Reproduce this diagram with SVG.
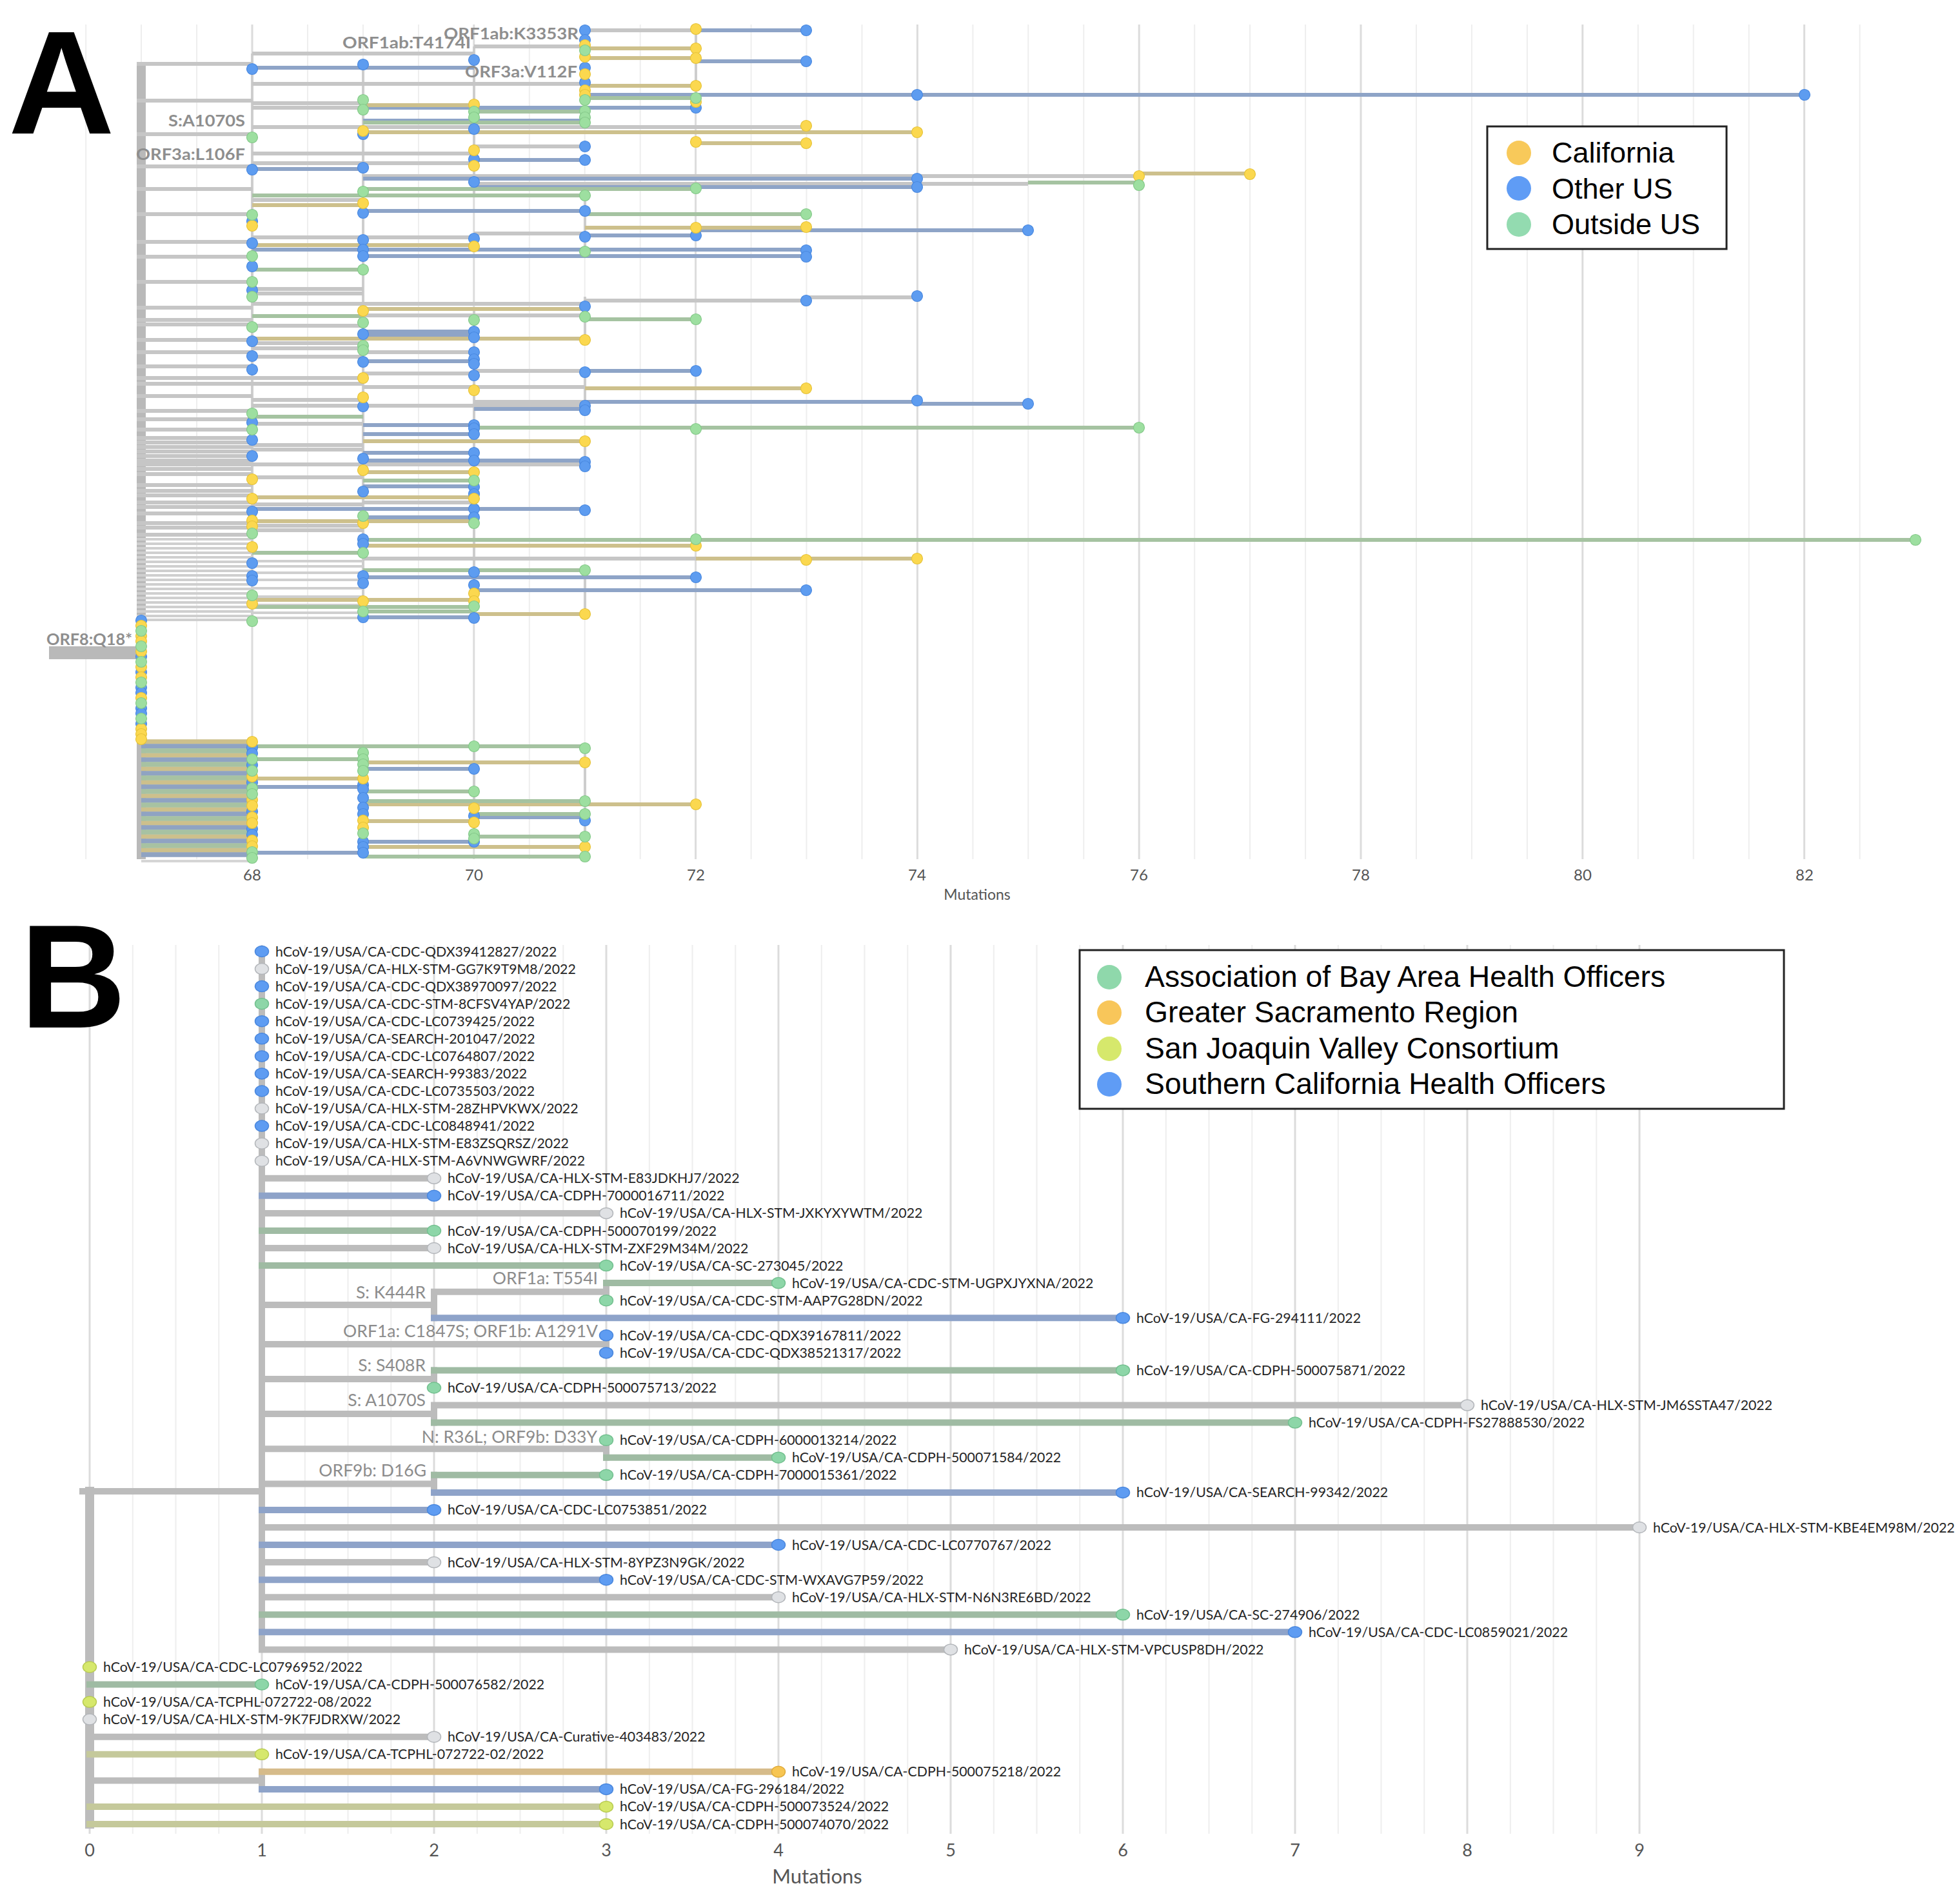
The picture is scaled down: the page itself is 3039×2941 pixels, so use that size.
<svg xmlns="http://www.w3.org/2000/svg" width="3039" height="2941" viewBox="0 0 3039 2941">
<style>
text{font-family:Lato,"Liberation Sans",sans-serif}
.lbl{font-size:21.3px;fill:#262626}
.mut{font-size:26.5px;fill:#8c8c8c;text-anchor:end}
.muta{font-size:25px;font-weight:bold;fill:#8e8e8e}
.ax{fill:#555;text-anchor:middle}
.leg{font-family:"Liberation Sans",Arial,sans-serif;font-size:45px;fill:#000}
.legb{font-family:"Liberation Sans",Arial,sans-serif;font-size:46.3px;fill:#000}
.big{font-family:"Liberation Sans",Arial,sans-serif;font-weight:bold;fill:#000}
.gl{stroke:#eeeeee;stroke-width:2;fill:none}
.gd{stroke:#dcdcdc;stroke-width:3;fill:none}
.ag{stroke:#c6c6c6;stroke-width:6;fill:none}
.agl{stroke:#cfcfcf;stroke-width:4;fill:none}
.ab{stroke:#8ea4c7;stroke-width:6;fill:none}
.ay{stroke:#cdc08c;stroke-width:6;fill:none}
.an{stroke:#a5c3a1;stroke-width:6;fill:none}
.av{stroke:#cdcdcd;stroke-width:4;fill:none}
.pb{fill:#5d9cf0;stroke:#4a89e0;stroke-width:1.2}
.py{fill:#fbd84f;stroke:#e6c33a;stroke-width:1.2}
.pn{fill:#9ddfa0;stroke:#85c98a;stroke-width:1.2}
.br{fill:none;stroke-width:10;stroke-linecap:square}
.bg{stroke:#bcbcbc}
.bb{stroke:#8ea3c9}
.bn{stroke:#9fbba3}
.bo{stroke:#c5c99b}
.bt{stroke:#d6bb8a}
.db{fill:#5e9cf2;stroke:#4a87dd;stroke-width:1.5}
.dg{fill:#dfe1e4;stroke:#b3b6ba;stroke-width:1.5}
.dn{fill:#8dd6a8;stroke:#73c08f;stroke-width:1.5}
.dy{fill:#d6e86c;stroke:#b9cc52;stroke-width:1.5}
.do{fill:#f7c552;stroke:#dfab3a;stroke-width:1.5}
</style>
<rect width="3039" height="2941" fill="#fff"/>

<!-- ================= PANEL A ================= -->
<g id="A-grid">
<path class="gl" d="M133.2 38V1332M219.1 38V1332M305.1 38V1332M477 38V1332M562.9 38V1332M648.9 38V1332M820.8 38V1332M906.7 38V1332M992.7 38V1332M1164.6 38V1332M1250.5 38V1332M1336.5 38V1332M1508.4 38V1332M1594.3 38V1332M1680.3 38V1332M1852.2 38V1332M1938.1 38V1332M2024.1 38V1332M2196 38V1332M2281.9 38V1332M2367.9 38V1332M2539.8 38V1332M2625.7 38V1332M2711.7 38V1332M2883.6 38V1332"/>
<path class="gd" d="M391 38V1332M734.8 38V1332M1078.6 38V1332M1422.4 38V1332M1766.2 38V1332M2110 38V1332M2453.8 38V1332M2797.6 38V1332"/>
</g>
<g id="A-axis">
<text class="ax" font-size="24" x="391" y="1365">68</text>
<text class="ax" font-size="24" x="735" y="1365">70</text>
<text class="ax" font-size="24" x="1079" y="1365">72</text>
<text class="ax" font-size="24" x="1422" y="1365">74</text>
<text class="ax" font-size="24" x="1766" y="1365">76</text>
<text class="ax" font-size="24" x="2110" y="1365">78</text>
<text class="ax" font-size="24" x="2454" y="1365">80</text>
<text class="ax" font-size="24" x="2798" y="1365">82</text>
<text class="ax" font-size="23" x="1515" y="1395">Mutations</text>
</g>
<g id="A-connectors">
<rect x="76" y="1002" width="143" height="20" fill="#b9b9b9"/>
<path d="M219 97V1332" stroke="#b9b9b9" stroke-width="14" fill="none"/>
<path class="av" d="M391 83V963M563 98V963M735 72V300M735 480V960M907 47V160M907 300V392M907 460V530M907 575V640M907 680V725M907 880V955M1079 45V170M391 1148V1330M563 1170V1325M735 1155V1305M907 1157V1328"/>
<path class="ag" d="M212 99H391M212 156H391M212 208H391M212 258H391M212 293H391M212 332H391M212 375H391M212 398H391M212 437H391M212 477H391M212 496H391M212 503H391M212 527H391M212 546H391M212 568H391M212 586H391M212 595H391M212 614H391M212 637H391M212 650H391M212 666H391M212 679H391M212 686H391M212 693H391M212 700H391M212 707H391M212 714H391M212 720H391M212 727H391M212 735H391M212 752H391M212 761H391M212 768H391M212 779H391M212 786H391M212 796H391M212 811H391M212 818H391M212 829H391"/>
<path class="agl" d="M212 836H391M212 843H391M212 850H391M212 857H391M212 864H391M212 871H391M212 878H391M212 885H391M212 892H391M212 899H391M212 906H391M212 913H391M212 920H391M212 927H391M212 934H391M212 941H391M212 948H391M212 955H391M212 961H391"/>
<path class="ag" d="M735 72H907M391 83H735M907 47H1079M391 130H907M391 160H563M391 167H563M391 197H1250M735 227H907M391 238H735M391 253H735M563 273H1766M735 285H1594M391 310H563M735 362H907M391 368H735M907 466H1250M1250 461H1422M391 471H907M563 489H907M391 540H563M563 546H735M735 575H907M563 579H735M391 586H563M391 595H563M563 600H907M735 623H907M391 629H907M563 779H735M391 720H907M563 866H1079M391 448H563M391 455H563M391 505H563M391 532H563M391 553H563M391 620H563M391 657H563M391 690H563M391 697H563M391 740H563M391 782H563M391 815H563M391 822H563"/>
<path class="agl" d="M391 870H563M391 878H563M391 888H563M391 899H563M391 912H563M391 925H563M391 938H563M391 950H563M391 958H563"/>
<path class="ab" d="M1079 47H1250M1079 95H1250M391 105H735M563 167H1079M907 147H2798M563 187H907M735 248H907M391 262H563M563 277H1422M735 290H1422M563 327H907M1079 357H1594M907 365H1079M391 387H1250M563 397H1250M563 514H735M563 520H735M563 560H735M907 575H1079M1422 626H1594M735 634H907M563 659H735M563 673H735M563 702H735M563 714H907M563 754H735M563 802H735M563 895H1079M735 915H1250M563 957H735M563 1192H735M391 1220H563M735 1267H907M391 1322H563M563 1305H735"/>
<path class="ab" stroke-width="10" d="M907 623H1422M391 789H907M907 147H1079"/>
<path class="ay" d="M907 75H1079M907 133H1079M563 163H735M563 205H1422M1079 222H1250M1766 269H1938M391 318H563M907 353H1250M391 380H735M563 479H907M391 525H907M907 602H1250M563 684H907M563 732H735M391 771H735M391 808H735M563 846H1079M1079 866H1422M391 930H735M735 952H907M563 1182H907M391 1207H563M563 1247H1079M563 1273H735M563 1313H907"/>
<path class="ay" stroke-width="10" d="M907 90H1079"/>
<path class="an" d="M907 152H1079M735 173H907M563 190H907M1594 283H1766M563 293H1079M391 303H907M907 332H1250M391 418H563M907 495H1079M391 646H563M735 663H1766M563 745H735M563 837H2970M391 857H563M563 884H907M391 941H735M563 948H735M391 1157H907M391 1177H563M563 1227H735M563 1242H907M735 1262H907M735 1297H907M563 1328H907"/>
<path class="an" stroke-width="12" d="M391 490H563"/>
<path stroke="#cdc08c" stroke-width="7.5" fill="none" d="M219 1150H391M219 1171H391M219 1192H391M219 1213H391M219 1234H391M219 1255H391M219 1276H391M219 1297H391M219 1318H391"/>
<path stroke="#8fa3c2" stroke-width="7.5" fill="none" d="M219 1157H391M219 1178H391M219 1199H391M219 1220H391M219 1241H391M219 1262H391M219 1283H391M219 1304H391M219 1325H391"/>
<path stroke="#a7c2a2" stroke-width="7.5" fill="none" d="M219 1164H391M219 1185H391M219 1206H391M219 1227H391M219 1248H391M219 1269H391M219 1290H391M219 1311H391"/>
<path stroke="#d5d5d5" stroke-width="4" fill="none" d="M219 1335H391"/>
</g>
<g id="A-tips-blue" class="pb">
<circle cx="907" cy="47" r="8.5"/><circle cx="1250" cy="47" r="8.5"/><circle cx="907" cy="62" r="8.5"/><circle cx="1250" cy="95" r="8.5"/><circle cx="735" cy="93" r="8.5"/><circle cx="391" cy="107" r="8.5"/><circle cx="563" cy="100" r="8.5"/><circle cx="907" cy="105" r="8.5"/><circle cx="907" cy="128" r="8.5"/><circle cx="1422" cy="147" r="8.5"/><circle cx="2798" cy="147" r="8.5"/><circle cx="1079" cy="167" r="8.5"/><circle cx="735" cy="200" r="8.5"/><circle cx="563" cy="208" r="8.5"/><circle cx="907" cy="227" r="8.5"/><circle cx="907" cy="248" r="8.5"/><circle cx="735" cy="247" r="8.5"/><circle cx="563" cy="260" r="8.5"/><circle cx="391" cy="263" r="8.5"/><circle cx="1422" cy="277" r="8.5"/><circle cx="735" cy="282" r="8.5"/><circle cx="1422" cy="290" r="8.5"/><circle cx="907" cy="327" r="8.5"/><circle cx="563" cy="330" r="8.5"/><circle cx="391" cy="343" r="8.5"/><circle cx="1594" cy="357" r="8.5"/><circle cx="907" cy="367" r="8.5"/><circle cx="1079" cy="365" r="8.5"/><circle cx="735" cy="370" r="8.5"/><circle cx="391" cy="377" r="8.5"/><circle cx="563" cy="372" r="8.5"/><circle cx="563" cy="387" r="8.5"/><circle cx="1250" cy="388" r="8.5"/><circle cx="563" cy="397" r="8.5"/><circle cx="1250" cy="398" r="8.5"/><circle cx="391" cy="413" r="8.5"/><circle cx="391" cy="450" r="8.5"/><circle cx="1422" cy="459" r="8.5"/><circle cx="1250" cy="466" r="8.5"/><circle cx="907" cy="475" r="8.5"/><circle cx="735" cy="514" r="8.5"/><circle cx="735" cy="523" r="8.5"/><circle cx="563" cy="518" r="8.5"/><circle cx="391" cy="529" r="8.5"/><circle cx="735" cy="546" r="8.5"/><circle cx="391" cy="552" r="8.5"/><circle cx="735" cy="557" r="8.5"/><circle cx="735" cy="564" r="8.5"/><circle cx="563" cy="561" r="8.5"/><circle cx="391" cy="573" r="8.5"/><circle cx="907" cy="577" r="8.5"/><circle cx="1079" cy="575" r="8.5"/><circle cx="735" cy="582" r="8.5"/><circle cx="1422" cy="621" r="8.5"/><circle cx="1594" cy="626" r="8.5"/><circle cx="907" cy="629" r="8.5"/><circle cx="563" cy="630" r="8.5"/><circle cx="907" cy="636" r="8.5"/><circle cx="391" cy="655" r="8.5"/><circle cx="735" cy="659" r="8.5"/><circle cx="735" cy="664" r="8.5"/><circle cx="735" cy="673" r="8.5"/><circle cx="391" cy="682" r="8.5"/><circle cx="735" cy="702" r="8.5"/><circle cx="391" cy="707" r="8.5"/><circle cx="735" cy="714" r="8.5"/><circle cx="907" cy="716" r="8.5"/><circle cx="563" cy="711" r="8.5"/><circle cx="907" cy="723" r="8.5"/><circle cx="735" cy="755" r="8.5"/><circle cx="735" cy="766" r="8.5"/><circle cx="563" cy="762" r="8.5"/><circle cx="907" cy="791" r="8.5"/><circle cx="735" cy="789" r="8.5"/><circle cx="391" cy="793" r="8.5"/><circle cx="735" cy="802" r="8.5"/><circle cx="563" cy="836" r="8.5"/><circle cx="563" cy="843" r="8.5"/><circle cx="391" cy="873" r="8.5"/><circle cx="735" cy="887" r="8.5"/><circle cx="1079" cy="895" r="8.5"/><circle cx="391" cy="893" r="8.5"/><circle cx="563" cy="893" r="8.5"/><circle cx="563" cy="904" r="8.5"/><circle cx="391" cy="900" r="8.5"/><circle cx="735" cy="907" r="8.5"/><circle cx="1250" cy="915" r="8.5"/><circle cx="563" cy="957" r="8.5"/><circle cx="735" cy="958" r="8.5"/>
<circle cx="391" cy="1159" r="8.5"/><circle cx="391" cy="1168" r="8.5"/><circle cx="391" cy="1186" r="8.5"/><circle cx="391" cy="1213" r="8.5"/><circle cx="391" cy="1258" r="8.5"/><circle cx="391" cy="1285" r="8.5"/><circle cx="391" cy="1294" r="8.5"/><circle cx="735" cy="1192" r="8.5"/><circle cx="563" cy="1217" r="8.5"/><circle cx="563" cy="1223" r="8.5"/><circle cx="563" cy="1237" r="8.5"/><circle cx="563" cy="1252" r="8.5"/><circle cx="563" cy="1262" r="8.5"/><circle cx="735" cy="1265" r="8.5"/><circle cx="907" cy="1272" r="8.5"/><circle cx="563" cy="1305" r="8.5"/><circle cx="735" cy="1305" r="8.5"/><circle cx="563" cy="1313" r="8.5"/><circle cx="563" cy="1322" r="8.5"/>
<circle cx="219" cy="962" r="8.5"/><circle cx="219" cy="1018" r="8.5"/><circle cx="219" cy="1042" r="8.5"/><circle cx="219" cy="1066" r="8.5"/><circle cx="219" cy="1074" r="8.5"/><circle cx="219" cy="1098" r="8.5"/><circle cx="219" cy="1106" r="8.5"/><circle cx="219" cy="1122" r="8.5"/>
</g>
<g id="A-tips-yellow" class="py">
<circle cx="1079" cy="45" r="8.5"/><circle cx="907" cy="70" r="8.5"/><circle cx="1079" cy="75" r="8.5"/><circle cx="907" cy="88" r="8.5"/><circle cx="1079" cy="90" r="8.5"/><circle cx="907" cy="115" r="8.5"/><circle cx="1079" cy="133" r="8.5"/><circle cx="907" cy="140" r="8.5"/><circle cx="907" cy="147" r="8.5"/><circle cx="1079" cy="158" r="8.5"/><circle cx="735" cy="162" r="8.5"/><circle cx="1250" cy="195" r="8.5"/><circle cx="563" cy="203" r="8.5"/><circle cx="1422" cy="205" r="8.5"/><circle cx="1079" cy="220" r="8.5"/><circle cx="1250" cy="222" r="8.5"/><circle cx="735" cy="233" r="8.5"/><circle cx="735" cy="257" r="8.5"/><circle cx="1766" cy="273" r="8.5"/><circle cx="1938" cy="270" r="8.5"/><circle cx="563" cy="315" r="8.5"/><circle cx="391" cy="350" r="8.5"/><circle cx="1079" cy="353" r="8.5"/><circle cx="1250" cy="352" r="8.5"/><circle cx="735" cy="382" r="8.5"/><circle cx="563" cy="482" r="8.5"/><circle cx="907" cy="527" r="8.5"/><circle cx="563" cy="586" r="8.5"/><circle cx="1250" cy="602" r="8.5"/><circle cx="735" cy="605" r="8.5"/><circle cx="563" cy="616" r="8.5"/><circle cx="907" cy="684" r="8.5"/><circle cx="563" cy="729" r="8.5"/><circle cx="735" cy="732" r="8.5"/><circle cx="391" cy="743" r="8.5"/><circle cx="391" cy="773" r="8.5"/><circle cx="735" cy="773" r="8.5"/><circle cx="391" cy="807" r="8.5"/><circle cx="391" cy="816" r="8.5"/><circle cx="563" cy="811" r="8.5"/><circle cx="1079" cy="846" r="8.5"/><circle cx="391" cy="848" r="8.5"/><circle cx="1250" cy="868" r="8.5"/><circle cx="1422" cy="866" r="8.5"/><circle cx="735" cy="920" r="8.5"/><circle cx="563" cy="932" r="8.5"/><circle cx="735" cy="932" r="8.5"/><circle cx="391" cy="936" r="8.5"/><circle cx="907" cy="952" r="8.5"/>
<circle cx="391" cy="1150" r="8.5"/><circle cx="391" cy="1204" r="8.5"/><circle cx="391" cy="1240" r="8.5"/><circle cx="391" cy="1249" r="8.5"/><circle cx="391" cy="1267" r="8.5"/><circle cx="391" cy="1276" r="8.5"/><circle cx="391" cy="1303" r="8.5"/><circle cx="391" cy="1312" r="8.5"/><circle cx="907" cy="1182" r="8.5"/><circle cx="563" cy="1207" r="8.5"/><circle cx="1079" cy="1247" r="8.5"/><circle cx="735" cy="1253" r="8.5"/><circle cx="563" cy="1272" r="8.5"/><circle cx="735" cy="1275" r="8.5"/><circle cx="563" cy="1283" r="8.5"/><circle cx="907" cy="1313" r="8.5"/>
<circle cx="219" cy="970" r="8.5"/><circle cx="219" cy="986" r="8.5"/><circle cx="219" cy="994" r="8.5"/><circle cx="219" cy="1010" r="8.5"/><circle cx="219" cy="1034" r="8.5"/><circle cx="219" cy="1050" r="8.5"/><circle cx="219" cy="1082" r="8.5"/><circle cx="219" cy="1130" r="8.5"/><circle cx="219" cy="1138" r="8.5"/><circle cx="219" cy="1146" r="8.5"/>
</g>
<g id="A-tips-green" class="pn">
<circle cx="907" cy="78" r="8.5"/><circle cx="907" cy="155" r="8.5"/><circle cx="1079" cy="152" r="8.5"/><circle cx="563" cy="155" r="8.5"/><circle cx="563" cy="170" r="8.5"/><circle cx="735" cy="173" r="8.5"/><circle cx="907" cy="172" r="8.5"/><circle cx="735" cy="182" r="8.5"/><circle cx="907" cy="182" r="8.5"/><circle cx="907" cy="190" r="8.5"/><circle cx="391" cy="213" r="8.5"/><circle cx="1766" cy="287" r="8.5"/><circle cx="563" cy="297" r="8.5"/><circle cx="1079" cy="292" r="8.5"/><circle cx="907" cy="303" r="8.5"/><circle cx="1250" cy="332" r="8.5"/><circle cx="391" cy="333" r="8.5"/><circle cx="907" cy="390" r="8.5"/><circle cx="391" cy="397" r="8.5"/><circle cx="563" cy="418" r="8.5"/><circle cx="391" cy="437" r="8.5"/><circle cx="391" cy="460" r="8.5"/><circle cx="907" cy="491" r="8.5"/><circle cx="1079" cy="495" r="8.5"/><circle cx="735" cy="496" r="8.5"/><circle cx="563" cy="500" r="8.5"/><circle cx="391" cy="507" r="8.5"/><circle cx="563" cy="536" r="8.5"/><circle cx="563" cy="543" r="8.5"/><circle cx="391" cy="641" r="8.5"/><circle cx="1079" cy="665" r="8.5"/><circle cx="1766" cy="663" r="8.5"/><circle cx="391" cy="666" r="8.5"/><circle cx="735" cy="745" r="8.5"/><circle cx="563" cy="800" r="8.5"/><circle cx="735" cy="811" r="8.5"/><circle cx="391" cy="827" r="8.5"/><circle cx="1079" cy="836" r="8.5"/><circle cx="2970" cy="837" r="8.5"/><circle cx="563" cy="857" r="8.5"/><circle cx="907" cy="884" r="8.5"/><circle cx="391" cy="923" r="8.5"/><circle cx="735" cy="940" r="8.5"/><circle cx="563" cy="948" r="8.5"/><circle cx="391" cy="963" r="8.5"/>
<circle cx="391" cy="1177" r="8.5"/><circle cx="391" cy="1195" r="8.5"/><circle cx="391" cy="1222" r="8.5"/><circle cx="391" cy="1231" r="8.5"/><circle cx="391" cy="1321" r="8.5"/><circle cx="391" cy="1330" r="8.5"/><circle cx="735" cy="1157" r="8.5"/><circle cx="907" cy="1160" r="8.5"/><circle cx="563" cy="1167" r="8.5"/><circle cx="563" cy="1177" r="8.5"/><circle cx="563" cy="1185" r="8.5"/><circle cx="563" cy="1195" r="8.5"/><circle cx="735" cy="1227" r="8.5"/><circle cx="907" cy="1242" r="8.5"/><circle cx="907" cy="1262" r="8.5"/><circle cx="563" cy="1292" r="8.5"/><circle cx="735" cy="1293" r="8.5"/><circle cx="735" cy="1300" r="8.5"/><circle cx="907" cy="1297" r="8.5"/><circle cx="907" cy="1328" r="8.5"/>
<circle cx="219" cy="978" r="8.5"/><circle cx="219" cy="1002" r="8.5"/><circle cx="219" cy="1026" r="8.5"/><circle cx="219" cy="1058" r="8.5"/><circle cx="219" cy="1090" r="8.5"/><circle cx="219" cy="1114" r="8.5"/>
</g>
<g id="A-mutations">
<text class="muta" x="531" y="75" textLength="199" lengthAdjust="spacingAndGlyphs">ORF1ab:T4174I</text>
<text class="muta" x="688" y="61" textLength="209" lengthAdjust="spacingAndGlyphs">ORF1ab:K3353R</text>
<text class="muta" x="721" y="120" textLength="174" lengthAdjust="spacingAndGlyphs">ORF3a:V112F</text>
<text class="muta" x="261" y="196" textLength="119" lengthAdjust="spacingAndGlyphs">S:A1070S</text>
<text class="muta" x="211" y="248" textLength="169" lengthAdjust="spacingAndGlyphs">ORF3a:L106F</text>
<text class="muta" x="72" y="1000" textLength="133" lengthAdjust="spacingAndGlyphs">ORF8:Q18*</text>
</g>
<g id="A-legend">
<rect x="2306" y="196" width="371" height="190" fill="#fff" stroke="#222" stroke-width="3"/>
<circle cx="2355" cy="237" r="19" fill="#f8c95a"/>
<circle cx="2355" cy="292" r="19" fill="#5f9cf5"/>
<circle cx="2355" cy="348" r="19" fill="#93dbb0"/>
<text class="leg" x="2406" y="252">California</text>
<text class="leg" x="2406" y="308">Other US</text>
<text class="leg" x="2406" y="363">Outside US</text>
</g>
<text class="big" x="13" y="207" font-size="228">A</text>

<!-- ================= PANEL B ================= -->
<g id="B-grid">
<path class="gl" d="M205.8 1465V2843M272.5 1465V2843M339.3 1465V2843M472.8 1465V2843M539.5 1465V2843M606.3 1465V2843M739.8 1465V2843M806.5 1465V2843M873.3 1465V2843M1006.8 1465V2843M1073.5 1465V2843M1140.3 1465V2843M1273.8 1465V2843M1340.5 1465V2843M1407.3 1465V2843M1540.8 1465V2843M1607.5 1465V2843M1674.3 1465V2843M1807.8 1465V2843M1874.5 1465V2843M1941.3 1465V2843M2074.8 1465V2843M2141.5 1465V2843M2208.3 1465V2843M2341.8 1465V2843M2408.5 1465V2843M2475.3 1465V2843"/>
<path class="gd" d="M139 1465V2843M406 1465V2843M673 1465V2843M940 1465V2843M1207 1465V2843M1474 1465V2843M1741 1465V2843M2008 1465V2843M2275 1465V2843M2542 1465V2843"/>
</g>
<g id="B-axis">
<text class="ax" font-size="27" x="139" y="2878">0</text>
<text class="ax" font-size="27" x="406" y="2878">1</text>
<text class="ax" font-size="27" x="673" y="2878">2</text>
<text class="ax" font-size="27" x="940" y="2878">3</text>
<text class="ax" font-size="27" x="1207" y="2878">4</text>
<text class="ax" font-size="27" x="1474" y="2878">5</text>
<text class="ax" font-size="27" x="1741" y="2878">6</text>
<text class="ax" font-size="27" x="2008" y="2878">7</text>
<text class="ax" font-size="27" x="2275" y="2878">8</text>
<text class="ax" font-size="27" x="2542" y="2878">9</text>
<text class="ax" font-size="31" x="1267" y="2920">Mutations</text>
</g>
<g id="B-connectors" class="br">
<path class="bg" stroke-width="14" d="M139 2312V2828"/>
<path class="bg" d="M128 2312H406M406 1475V2557M406 1826.8H673M406 1880.9H940M406 1935H673M406 2023H673M673 2002.7V2043.3M673 2002.7H940M940 1989.1V2016.2M406 2083.9H940M940 2070.3V2097.4M406 2138H673M673 2124.4V2151.5M406 2192.1H673M673 2178.6V2205.6M673 2178.6H2275M406 2246.2H940M940 2232.7V2259.7M406 2300.4H673M673 2286.8V2313.9M406 2368H2542M406 2422.1H673M406 2476.2H1207M406 2557.4H1474M139 2692.7H673M139 2760.4H406M406 2746.8V2773.9"/>
<path class="bb" d="M406 1853.8H673M673 2043.3H1741M673 2313.9H1741M406 2340.9H673M406 2395H1207M406 2449.2H940M406 2530.3H2008M406 2773.9H940"/>
<path class="bn" d="M406 1908H673M406 1962.1H940M940 1989.1H1207M673 2124.4H1741M673 2205.6H2008M940 2259.7H1207M673 2286.8H940M406 2503.3H1741M139 2611.5H406"/>
<path class="bo" d="M139 2719.8H406M139 2800.9H940M139 2828H940"/>
<path class="bt" d="M406 2746.8H1207"/>
</g>
<g id="B-mutations">
<text class="mut" x="927" y="1991">ORF1a: T554I</text>
<text class="mut" x="660" y="2013">S: K444R</text>
<text class="mut" x="927" y="2073">ORF1a: C1847S; ORF1b: A1291V</text>
<text class="mut" x="660" y="2126">S: S408R</text>
<text class="mut" x="660" y="2180">S: A1070S</text>
<text class="mut" x="926" y="2237">N: R36L; ORF9b: D33Y</text>
<text class="mut" x="661" y="2289">ORF9b: D16G</text>
</g>
<g id="b-n00"><ellipse class="db" cx="406" cy="1475" rx="10.5" ry="8.5"/><text class="lbl" x="427" y="1482.5">hCoV-19/USA/CA-CDC-QDX39412827/2022</text></g>
<g id="b-n01"><ellipse class="dg" cx="406" cy="1502.1" rx="10.5" ry="8.5"/><text class="lbl" x="427" y="1509.6">hCoV-19/USA/CA-HLX-STM-GG7K9T9M8/2022</text></g>
<g id="b-n02"><ellipse class="db" cx="406" cy="1529.1" rx="10.5" ry="8.5"/><text class="lbl" x="427" y="1536.6">hCoV-19/USA/CA-CDC-QDX38970097/2022</text></g>
<g id="b-n03"><ellipse class="dn" cx="406" cy="1556.2" rx="10.5" ry="8.5"/><text class="lbl" x="427" y="1563.7">hCoV-19/USA/CA-CDC-STM-8CFSV4YAP/2022</text></g>
<g id="b-n04"><ellipse class="db" cx="406" cy="1583.2" rx="10.5" ry="8.5"/><text class="lbl" x="427" y="1590.7">hCoV-19/USA/CA-CDC-LC0739425/2022</text></g>
<g id="b-n05"><ellipse class="db" cx="406" cy="1610.3" rx="10.5" ry="8.5"/><text class="lbl" x="427" y="1617.8">hCoV-19/USA/CA-SEARCH-201047/2022</text></g>
<g id="b-n06"><ellipse class="db" cx="406" cy="1637.4" rx="10.5" ry="8.5"/><text class="lbl" x="427" y="1644.9">hCoV-19/USA/CA-CDC-LC0764807/2022</text></g>
<g id="b-n07"><ellipse class="db" cx="406" cy="1664.4" rx="10.5" ry="8.5"/><text class="lbl" x="427" y="1671.9">hCoV-19/USA/CA-SEARCH-99383/2022</text></g>
<g id="b-n08"><ellipse class="db" cx="406" cy="1691.5" rx="10.5" ry="8.5"/><text class="lbl" x="427" y="1699">hCoV-19/USA/CA-CDC-LC0735503/2022</text></g>
<g id="b-n09"><ellipse class="dg" cx="406" cy="1718.5" rx="10.5" ry="8.5"/><text class="lbl" x="427" y="1726">hCoV-19/USA/CA-HLX-STM-28ZHPVKWX/2022</text></g>
<g id="b-n10"><ellipse class="db" cx="406" cy="1745.6" rx="10.5" ry="8.5"/><text class="lbl" x="427" y="1753.1">hCoV-19/USA/CA-CDC-LC0848941/2022</text></g>
<g id="b-n11"><ellipse class="dg" cx="406" cy="1772.7" rx="10.5" ry="8.5"/><text class="lbl" x="427" y="1780.2">hCoV-19/USA/CA-HLX-STM-E83ZSQRSZ/2022</text></g>
<g id="b-n12"><ellipse class="dg" cx="406" cy="1799.7" rx="10.5" ry="8.5"/><text class="lbl" x="427" y="1807.2">hCoV-19/USA/CA-HLX-STM-A6VNWGWRF/2022</text></g>
<g id="b-n13"><ellipse class="dg" cx="673" cy="1826.8" rx="10.5" ry="8.5"/><text class="lbl" x="694" y="1834.3">hCoV-19/USA/CA-HLX-STM-E83JDKHJ7/2022</text></g>
<g id="b-n14"><ellipse class="db" cx="673" cy="1853.8" rx="10.5" ry="8.5"/><text class="lbl" x="694" y="1861.3">hCoV-19/USA/CA-CDPH-7000016711/2022</text></g>
<g id="b-n15"><ellipse class="dg" cx="940" cy="1880.9" rx="10.5" ry="8.5"/><text class="lbl" x="961" y="1888.4">hCoV-19/USA/CA-HLX-STM-JXKYXYWTM/2022</text></g>
<g id="b-n16"><ellipse class="dn" cx="673" cy="1908" rx="10.5" ry="8.5"/><text class="lbl" x="694" y="1915.5">hCoV-19/USA/CA-CDPH-500070199/2022</text></g>
<g id="b-n17"><ellipse class="dg" cx="673" cy="1935" rx="10.5" ry="8.5"/><text class="lbl" x="694" y="1942.5">hCoV-19/USA/CA-HLX-STM-ZXF29M34M/2022</text></g>
<g id="b-n18"><ellipse class="dn" cx="940" cy="1962.1" rx="10.5" ry="8.5"/><text class="lbl" x="961" y="1969.6">hCoV-19/USA/CA-SC-273045/2022</text></g>
<g id="b-n19"><ellipse class="dn" cx="1207" cy="1989.1" rx="10.5" ry="8.5"/><text class="lbl" x="1228" y="1996.6">hCoV-19/USA/CA-CDC-STM-UGPXJYXNA/2022</text></g>
<g id="b-n20"><ellipse class="dn" cx="940" cy="2016.2" rx="10.5" ry="8.5"/><text class="lbl" x="961" y="2023.7">hCoV-19/USA/CA-CDC-STM-AAP7G28DN/2022</text></g>
<g id="b-n21"><ellipse class="db" cx="1741" cy="2043.3" rx="10.5" ry="8.5"/><text class="lbl" x="1762" y="2050.8">hCoV-19/USA/CA-FG-294111/2022</text></g>
<g id="b-n22"><ellipse class="db" cx="940" cy="2070.3" rx="10.5" ry="8.5"/><text class="lbl" x="961" y="2077.8">hCoV-19/USA/CA-CDC-QDX39167811/2022</text></g>
<g id="b-n23"><ellipse class="db" cx="940" cy="2097.4" rx="10.5" ry="8.5"/><text class="lbl" x="961" y="2104.9">hCoV-19/USA/CA-CDC-QDX38521317/2022</text></g>
<g id="b-n24"><ellipse class="dn" cx="1741" cy="2124.4" rx="10.5" ry="8.5"/><text class="lbl" x="1762" y="2131.9">hCoV-19/USA/CA-CDPH-500075871/2022</text></g>
<g id="b-n25"><ellipse class="dn" cx="673" cy="2151.5" rx="10.5" ry="8.5"/><text class="lbl" x="694" y="2159">hCoV-19/USA/CA-CDPH-500075713/2022</text></g>
<g id="b-n26"><ellipse class="dg" cx="2275" cy="2178.6" rx="10.5" ry="8.5"/><text class="lbl" x="2296" y="2186.1">hCoV-19/USA/CA-HLX-STM-JM6SSTA47/2022</text></g>
<g id="b-n27"><ellipse class="dn" cx="2008" cy="2205.6" rx="10.5" ry="8.5"/><text class="lbl" x="2029" y="2213.1">hCoV-19/USA/CA-CDPH-FS27888530/2022</text></g>
<g id="b-n28"><ellipse class="dn" cx="940" cy="2232.7" rx="10.5" ry="8.5"/><text class="lbl" x="961" y="2240.2">hCoV-19/USA/CA-CDPH-6000013214/2022</text></g>
<g id="b-n29"><ellipse class="dn" cx="1207" cy="2259.7" rx="10.5" ry="8.5"/><text class="lbl" x="1228" y="2267.2">hCoV-19/USA/CA-CDPH-500071584/2022</text></g>
<g id="b-n30"><ellipse class="dn" cx="940" cy="2286.8" rx="10.5" ry="8.5"/><text class="lbl" x="961" y="2294.3">hCoV-19/USA/CA-CDPH-7000015361/2022</text></g>
<g id="b-n31"><ellipse class="db" cx="1741" cy="2313.9" rx="10.5" ry="8.5"/><text class="lbl" x="1762" y="2321.4">hCoV-19/USA/CA-SEARCH-99342/2022</text></g>
<g id="b-n32"><ellipse class="db" cx="673" cy="2340.9" rx="10.5" ry="8.5"/><text class="lbl" x="694" y="2348.4">hCoV-19/USA/CA-CDC-LC0753851/2022</text></g>
<g id="b-n33"><ellipse class="dg" cx="2542" cy="2368" rx="10.5" ry="8.5"/><text class="lbl" x="2563" y="2375.5">hCoV-19/USA/CA-HLX-STM-KBE4EM98M/2022</text></g>
<g id="b-n34"><ellipse class="db" cx="1207" cy="2395" rx="10.5" ry="8.5"/><text class="lbl" x="1228" y="2402.5">hCoV-19/USA/CA-CDC-LC0770767/2022</text></g>
<g id="b-n35"><ellipse class="dg" cx="673" cy="2422.1" rx="10.5" ry="8.5"/><text class="lbl" x="694" y="2429.6">hCoV-19/USA/CA-HLX-STM-8YPZ3N9GK/2022</text></g>
<g id="b-n36"><ellipse class="db" cx="940" cy="2449.2" rx="10.5" ry="8.5"/><text class="lbl" x="961" y="2456.7">hCoV-19/USA/CA-CDC-STM-WXAVG7P59/2022</text></g>
<g id="b-n37"><ellipse class="dg" cx="1207" cy="2476.2" rx="10.5" ry="8.5"/><text class="lbl" x="1228" y="2483.7">hCoV-19/USA/CA-HLX-STM-N6N3RE6BD/2022</text></g>
<g id="b-n38"><ellipse class="dn" cx="1741" cy="2503.3" rx="10.5" ry="8.5"/><text class="lbl" x="1762" y="2510.8">hCoV-19/USA/CA-SC-274906/2022</text></g>
<g id="b-n39"><ellipse class="db" cx="2008" cy="2530.3" rx="10.5" ry="8.5"/><text class="lbl" x="2029" y="2537.8">hCoV-19/USA/CA-CDC-LC0859021/2022</text></g>
<g id="b-n40"><ellipse class="dg" cx="1474" cy="2557.4" rx="10.5" ry="8.5"/><text class="lbl" x="1495" y="2564.9">hCoV-19/USA/CA-HLX-STM-VPCUSP8DH/2022</text></g>
<g id="b-n41"><ellipse class="dy" cx="139" cy="2584.5" rx="10.5" ry="8.5"/><text class="lbl" x="160" y="2592">hCoV-19/USA/CA-CDC-LC0796952/2022</text></g>
<g id="b-n42"><ellipse class="dn" cx="406" cy="2611.5" rx="10.5" ry="8.5"/><text class="lbl" x="427" y="2619">hCoV-19/USA/CA-CDPH-500076582/2022</text></g>
<g id="b-n43"><ellipse class="dy" cx="139" cy="2638.6" rx="10.5" ry="8.5"/><text class="lbl" x="160" y="2646.1">hCoV-19/USA/CA-TCPHL-072722-08/2022</text></g>
<g id="b-n44"><ellipse class="dg" cx="139" cy="2665.6" rx="10.5" ry="8.5"/><text class="lbl" x="160" y="2673.1">hCoV-19/USA/CA-HLX-STM-9K7FJDRXW/2022</text></g>
<g id="b-n45"><ellipse class="dg" cx="673" cy="2692.7" rx="10.5" ry="8.5"/><text class="lbl" x="694" y="2700.2">hCoV-19/USA/CA-Curative-403483/2022</text></g>
<g id="b-n46"><ellipse class="dy" cx="406" cy="2719.8" rx="10.5" ry="8.5"/><text class="lbl" x="427" y="2727.3">hCoV-19/USA/CA-TCPHL-072722-02/2022</text></g>
<g id="b-n47"><ellipse class="do" cx="1207" cy="2746.8" rx="10.5" ry="8.5"/><text class="lbl" x="1228" y="2754.3">hCoV-19/USA/CA-CDPH-500075218/2022</text></g>
<g id="b-n48"><ellipse class="db" cx="940" cy="2773.9" rx="10.5" ry="8.5"/><text class="lbl" x="961" y="2781.4">hCoV-19/USA/CA-FG-296184/2022</text></g>
<g id="b-n49"><ellipse class="dy" cx="940" cy="2800.9" rx="10.5" ry="8.5"/><text class="lbl" x="961" y="2808.4">hCoV-19/USA/CA-CDPH-500073524/2022</text></g>
<g id="b-n50"><ellipse class="dy" cx="940" cy="2828" rx="10.5" ry="8.5"/><text class="lbl" x="961" y="2835.5">hCoV-19/USA/CA-CDPH-500074070/2022</text></g>
<g id="B-legend">
<rect x="1674" y="1473" width="1092" height="246" fill="#fff" stroke="#222" stroke-width="3"/>
<circle cx="1720" cy="1515" r="19" fill="#8fd8ab"/>
<circle cx="1720" cy="1570" r="19" fill="#f8c65a"/>
<circle cx="1720" cy="1626" r="19" fill="#d6e86c"/>
<circle cx="1720" cy="1681" r="19" fill="#5f9cf5"/>
<text class="legb" x="1775" y="1530">Association of Bay Area Health Officers</text>
<text class="legb" x="1775" y="1585">Greater Sacramento Region</text>
<text class="legb" x="1775" y="1641">San Joaquin Valley Consortium</text>
<text class="legb" x="1775" y="1696">Southern California Health Officers</text>
</g>
<text class="big" x="31" y="1593" font-size="228">B</text>
</svg>
